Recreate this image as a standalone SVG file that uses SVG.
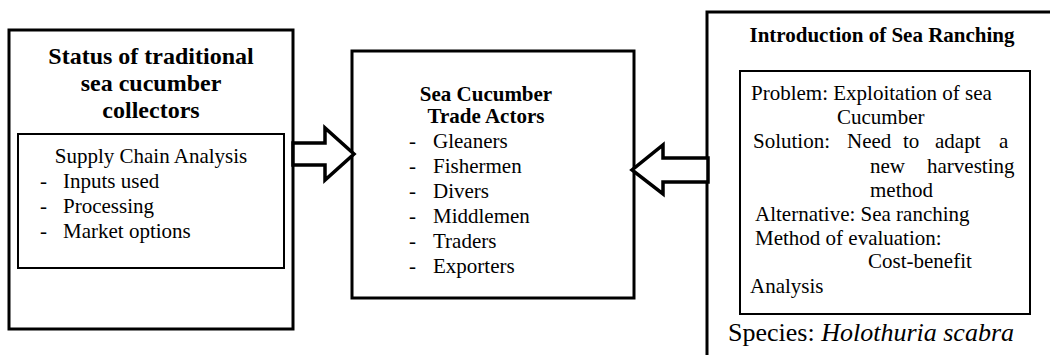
<svg xmlns="http://www.w3.org/2000/svg" width="1050" height="355" viewBox="0 0 1050 355" font-family="'Liberation Serif', 'Times New Roman', Times, 'DejaVu Serif', serif">
<style>
text{font-family:'Liberation Serif','Times New Roman',Times,'DejaVu Serif',serif;font-size:21px;fill:#000}
.b{font-weight:bold}
.t24{font-size:24px}
.c{text-anchor:middle}
.outer{fill:#fff;stroke:#000;stroke-width:3}
.inner{fill:#fff;stroke:#000;stroke-width:2}
.arrow{fill:#fff;stroke:#000;stroke-width:3.5;stroke-linejoin:miter}
</style>
<rect width="1050" height="355" fill="#fff"/>
<g id="status-collectors">
<rect class="outer" x="9" y="30" width="284" height="299"/>
<text class="b t24 c" x="151" y="64">Status of traditional</text>
<text class="b t24 c" x="151" y="91">sea cucumber</text>
<text class="b t24 c" x="151" y="118">collectors</text>
<rect class="inner" x="18" y="134" width="266" height="134"/>
<text class="c" x="151" y="163">Supply Chain Analysis</text>
<text x="40" y="188">-</text><text x="63" y="188">Inputs used</text>
<text x="40" y="213">-</text><text x="63" y="213">Processing</text>
<text x="40" y="238">-</text><text x="63" y="238">Market options</text>
</g>
<g id="trade-actors">
<rect class="outer" x="352" y="51" width="282" height="247"/>
<text class="b c" x="486" y="101">Sea Cucumber</text>
<text class="b c" x="486" y="123">Trade Actors</text>
<text x="409" y="148">-</text><text x="433" y="148">Gleaners</text>
<text x="409" y="173">-</text><text x="433" y="173">Fishermen</text>
<text x="409" y="198">-</text><text x="433" y="198">Divers</text>
<text x="409" y="223">-</text><text x="433" y="223">Middlemen</text>
<text x="409" y="248">-</text><text x="433" y="248">Traders</text>
<text x="409" y="273">-</text><text x="433" y="273">Exporters</text>
</g>
<g id="sea-ranching">
<rect class="outer" x="707" y="12" width="360" height="400"/>
<text class="b c" x="882" y="42">Introduction of Sea Ranching</text>
<rect class="inner" x="740" y="71" width="290" height="243"/>
<text x="751" y="100">Problem: Exploitation of sea</text>
<text x="837" y="124">Cucumber</text>
<text x="753" y="148">Solution:</text><text x="847" y="148">Need</text><text x="903" y="148">to</text><text x="935" y="148">adapt</text><text x="999" y="148">a</text>
<text x="870" y="173">new</text><text x="927" y="173">harvesting</text>
<text x="870" y="197">method</text>
<text x="755" y="221">Alternative: Sea ranching</text>
<text x="755" y="245">Method of evaluation:</text>
<text x="868" y="268">Cost-benefit</text>
<text x="750" y="293">Analysis</text>
<text x="728" y="341" style="font-size:26px">Species: <tspan font-style="italic">Holothuria scabra</tspan></text>
</g>
<g id="connectors">
<polygon class="arrow" points="293,143 325,143 325,128 354,154 325,180 325,165 293,165"/>
<polygon class="arrow" points="708,158 663,158 663,145 632,170 663,194 663,182 708,182"/>
</g>
</svg>
